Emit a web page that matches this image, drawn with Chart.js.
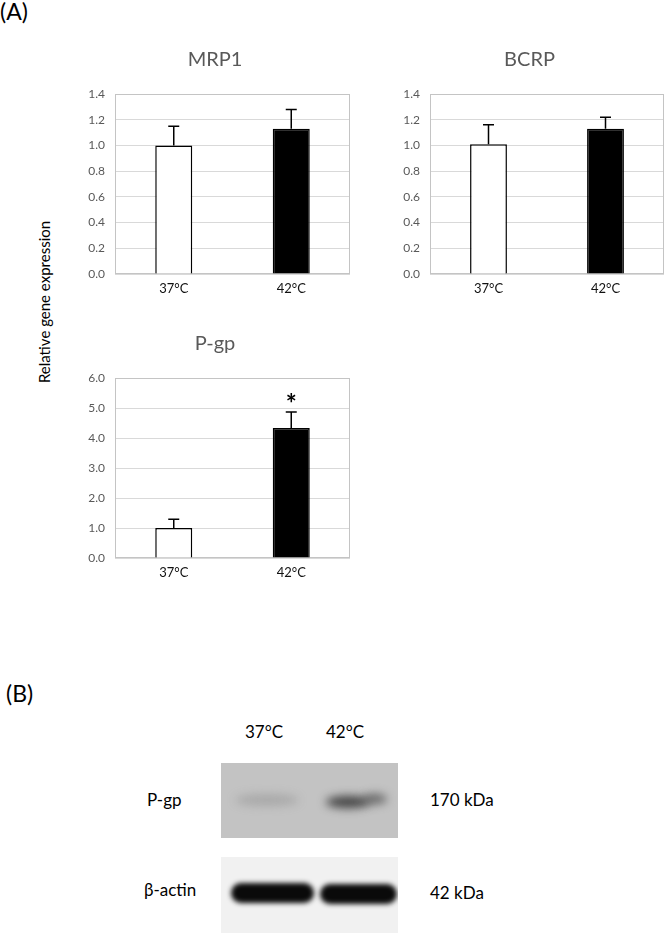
<!DOCTYPE html>
<html>
<head>
<meta charset="utf-8">
<script src="https://cdn.jsdelivr.net/npm/chart.js@4"></script>
<style>
  body { margin: 0; background: #fff; width: 665px; height: 933px; overflow: hidden; position: relative; font-family: Lato, "Open Sans", sans-serif; }
  canvas { position: absolute; }
  .txt { position: absolute; color: #000; white-space: nowrap; line-height: 1; }
</style>
</head>
<body>
<div class="txt" style="left:0;top:0;font-size:23px;">(A)</div>
<div class="txt" style="left:6px;top:682px;font-size:23px;">(B)</div>
<div class="txt" id="ytitle" style="left:44px;top:302px;font-size:15px;transform:translate(-50%,-50%) rotate(-90deg);">Relative gene expression</div>

<canvas id="mrp1" width="275" height="262" style="left:80px;top:40px;"></canvas>
<canvas id="bcrp" width="270" height="262" style="left:395px;top:40px;"></canvas>
<canvas id="pgp" width="275" height="262" style="left:80px;top:324px;"></canvas>

<div class="txt" style="left:245px;top:723px;font-size:17px;">37°C</div>
<div class="txt" style="left:326px;top:723px;font-size:17px;">42°C</div>
<div class="txt" style="left:147px;top:791px;font-size:17px;">P-gp</div>
<div class="txt" style="left:144px;top:881px;font-size:17px;">β-actin</div>
<div class="txt" style="left:430px;top:791px;font-size:17px;">170 kDa</div>
<div class="txt" style="left:430px;top:884px;font-size:17px;">42 kDa</div>
<canvas id="blot" width="180" height="180" style="left:220px;top:760px;"></canvas>

<script>
const categories = ['37°C', '42°C'];

const mrp1Values = [1.00, 1.13];
const mrp1Errors = [0.15, 0.15];

const bcrpValues = [1.01, 1.13];
const bcrpErrors = [0.15, 0.09];

const pgpValues = [1.00, 4.33];
const pgpErrors = [0.29, 0.54];
const pgpMarks = ['', '*'];

const barColors = ['#ffffff', '#000000'];

// outline round the plot area
const plotBorder = {
  id: 'plotBorder',
  beforeDatasetsDraw(chart) {
    const { ctx, chartArea: a } = chart;
    ctx.save();
    ctx.strokeStyle = '#c4c4c4';
    ctx.lineWidth = 1;
    ctx.strokeRect(a.left + 0.5, a.top + 0.5, a.width - 1, a.height - 1);
    ctx.restore();
  }
};

// upward error bars and significance marks
const errorBars = {
  id: 'errorBars',
  afterDatasetsDraw(chart) {
    const { ctx } = chart;
    const y = chart.scales.y;
    const ds = chart.data.datasets[0];
    const meta = chart.getDatasetMeta(0);
    ctx.save();
    ctx.strokeStyle = '#000';
    ctx.lineWidth = 1.5;
    meta.data.forEach((bar, i) => {
      const yTop = y.getPixelForValue(ds.data[i] + ds.errors[i]);
      const yBase = y.getPixelForValue(ds.data[i]);
      ctx.beginPath();
      ctx.moveTo(bar.x, yBase);
      ctx.lineTo(bar.x, yTop);
      ctx.moveTo(bar.x - 5.5, yTop);
      ctx.lineTo(bar.x + 5.5, yTop);
      ctx.stroke();
      if (ds.marks && ds.marks[i]) {
        ctx.fillStyle = '#000';
        ctx.font = 'bold 26px Lato';
        ctx.textAlign = 'center';
        ctx.textBaseline = 'middle';
        ctx.fillText(ds.marks[i], bar.x, yTop - 7);
      }
    });
    ctx.restore();
  }
};

function makeChart(id, title, values, errors, yMax, step, marks) {
  const ctx = document.getElementById(id).getContext('2d');
  return new Chart(ctx, {
    type: 'bar',
    data: {
      labels: categories,
      datasets: [{
        data: values,
        errors: errors,
        marks: marks,
        backgroundColor: barColors,
        borderColor: '#000',
        borderWidth: 1.5,
        categoryPercentage: 1,
        barPercentage: 0.315
      }]
    },
    options: {
      responsive: false,
      animation: false,
      layout: { padding: { left: 0, right: id === 'bcrp' ? 1 : 5, top: 0, bottom: 0 } },
      plugins: {
        legend: { display: false },
        tooltip: { enabled: false },
        title: {
          display: true,
          text: title,
          color: '#595959',
          font: { family: 'Lato', size: 20, weight: 'normal' },
          padding: { top: 8, bottom: 22 }
        }
      },
      scales: {
        x: {
          grid: { display: false, drawTicks: false },
          border: { display: false },
          ticks: { color: '#111', font: { family: 'Lato', size: 13 }, padding: 7 },
          afterFit(scale) { scale.height = 28; }
        },
        y: {
          min: 0,
          max: yMax,
          grid: { color: '#d9d9d9', drawTicks: false },
          border: { display: false },
          ticks: {
            stepSize: step,
            color: '#595959',
            font: { family: 'Lato', size: 12 },
            padding: 10,
            callback: v => Number(v).toFixed(1)
          },
          afterFit(scale) { scale.width = 35; }
        }
      }
    },
    plugins: [plotBorder, errorBars]
  });
}

makeChart('mrp1', 'MRP1', mrp1Values, mrp1Errors, 1.4, 0.2);
makeChart('bcrp', 'BCRP', bcrpValues, bcrpErrors, 1.4, 0.2);
makeChart('pgp', 'P-gp', pgpValues, pgpErrors, 6, 1, pgpMarks);

// western blot picture (illustration)
(function drawBlot() {
  const c = document.getElementById('blot').getContext('2d');
  // P-gp membrane
  c.fillStyle = '#c3c3c3';
  c.fillRect(1, 3, 177, 75);
  c.save();
  c.beginPath(); c.rect(1, 3, 177, 75); c.clip();
  c.filter = 'blur(5px)';
  c.fillStyle = 'rgba(120,120,120,0.35)';
  c.beginPath(); c.ellipse(47, 40, 32, 6, 0, 0, Math.PI * 2); c.fill();
  c.fillStyle = 'rgba(40,40,40,0.85)';
  c.beginPath(); c.ellipse(128, 42, 22, 6, 0, 0, Math.PI * 2); c.fill();
  c.fillStyle = 'rgba(60,60,60,0.7)';
  c.beginPath(); c.ellipse(155, 39, 12, 5, 0, 0, Math.PI * 2); c.fill();
  c.restore();
  // actin membrane
  c.fillStyle = '#f1f1f1';
  c.fillRect(1, 97, 177, 83);
  c.save();
  c.beginPath(); c.rect(1, 97, 177, 83); c.clip();
  c.filter = 'blur(2.5px)';
  c.fillStyle = '#0a0a0a';
  c.beginPath(); c.roundRect(11, 123, 83, 20, 10); c.fill();
  c.beginPath(); c.roundRect(100, 124, 77, 20, 10); c.fill();
  c.restore();
})();
</script>
</body>
</html>
